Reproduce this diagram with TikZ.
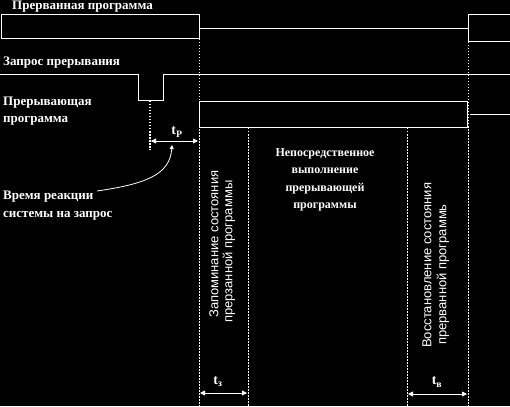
\documentclass[tikz,border=0pt]{standalone}
\usepackage{fontspec}
\setmainfont{Liberation Serif}
\newfontfamily\rotsans{Liberation Sans}
\usetikzlibrary{arrows.meta}
\begin{document}
\begin{tikzpicture}[x=1pt,y=-1pt,
  wl/.style={draw=white,line width=1pt},
  dl/.style={draw=white,line width=0.8pt,dash pattern=on 1.5pt off 1.5pt},
  lbl/.style={text=white,font=\bfseries\fontsize{13}{15}\selectfont,inner sep=0pt},
  mid/.style={text=white,font=\bfseries\fontsize{12}{17.5}\selectfont,inner sep=0pt,align=center},
  rot/.style={text=white,font=\rotsans\fontsize{13}{15}\selectfont,inner sep=0pt,rotate=90,anchor=west},
  dim/.style={draw=white,line width=0.8pt,{Triangle[length=5pt,width=5pt]}-{Triangle[length=5pt,width=5pt]}},
  tl/.style={text=white,font=\bfseries\fontsize{14}{16}\selectfont,inner sep=0pt}]
\fill[black] (0,0) rectangle (510,406);
\useasboundingbox (0,0) rectangle (510,406);
% labels
\node[lbl,anchor=west] (l1) at (12,7) {Прерванная программа};
\node[lbl,anchor=west] (l2) at (3,63) {Запрос прерывания};
\node[lbl,anchor=west] (l3) at (3,103) {Прерывающая};
\node[lbl,anchor=west] (l4) at (3,121) {программа};
\node[lbl,anchor=west] (l5) at (3,197) {Время реакции};
\node[lbl,anchor=west] (l6) at (3,216) {системы на запрос};
% interrupted program
\draw[wl] (1,15) rectangle (199,39);
\draw[wl] (199,29) -- (468,29);
\draw[wl] (514,15) -- (468,15) -- (468,42) -- (514,42);
% request
\draw[wl] (0,75) -- (138,75) -- (138,101) -- (163,101) -- (163,75) -- (510,75);
% interrupting program
\draw[wl] (199,102) rectangle (467,128);
\draw[wl] (470,115) -- (510,115);
% dotted verticals
\draw[dl] (199,39) -- (199,406);
\draw[dl,line width=1.2pt] (150,101) -- (150,150);
\draw[dl] (248,128) -- (248,406);
\draw[dl] (407,128) -- (407,406);
\draw[dl] (468,42) -- (468,406);
% reaction time
\coordinate (pa) at (151,141);
\coordinate (pb) at (198,141);
\draw[dim] (pa) -- (pb);
\node[tl] (tp) at (177,132) {t\textsubscript{P}};
\coordinate (cs) at (97,191);
\coordinate (ce) at (172,145);
\draw[draw=white,line width=0.8pt,-{Triangle[length=4pt,width=4pt]}] (cs) .. controls (145,184) and (170,175) .. (ce);
% middle text
\node[mid] (mt) at (325,180) {Непосредственное\\выполнение\\прерывающей\\программы};
% rotated texts
\node[rot] (r1) at (214,318) {Запоминание состояния};
\node[rot] (r2) at (229,323) {прерзанной программы};
\node[rot] (r3) at (427,348) {Восстановление состояния};
\node[rot] (r4) at (443,345) {прерванной программь};
% bottom dimensions
\coordinate (a1) at (200,393);
\coordinate (a2) at (247,393);
\draw[dim] (a1) -- (a2);
\node[tl] (t3) at (218,382) {t\textsubscript{з}};
\coordinate (b1) at (408,394);
\coordinate (b2) at (467,394);
\draw[dim] (b1) -- (b2);
\node[tl] (t4) at (437,382) {t\textsubscript{в}};
\end{tikzpicture}
\end{document}
